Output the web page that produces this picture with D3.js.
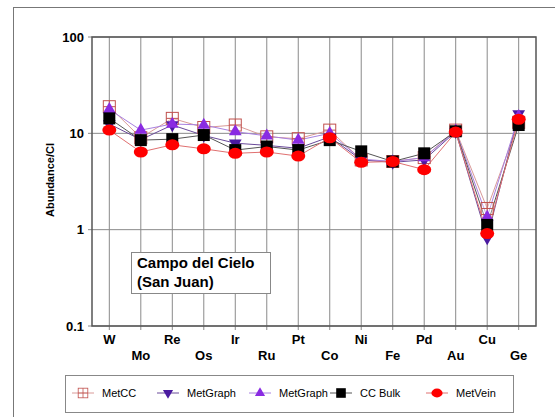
<!DOCTYPE html>
<html>
<head>
<meta charset="utf-8">
<script src="https://cdn.jsdelivr.net/npm/d3@7"></script>
<style>
  body { margin: 0; background: #fff; }
  svg { display: block; font-family: "Liberation Sans", Arial, sans-serif; }
</style>
</head>
<body>
<svg id="chart" width="555" height="417"></svg>
<script>
var elements = ["W", "Mo", "Re", "Os", "Ir", "Ru", "Pt", "Co", "Ni", "Fe", "Pd", "Au", "Cu", "Ge"]
var yTicks = [0.1, 1, 10, 100]

var metCC      = [18.9, 9.0, 14.3, 11.5, 12.2, 9.2, 8.8, 10.8, 5.3, 5.1, 5.6, 10.8, 1.66, 13.0]
var metGraphDn = [12.5, 8.6, 12.2, 9.5, 7.9, 7.5, 7.0, 9.2, 5.3, 5.0, 5.3, 10.4, 0.82, 15.9]
var metGraphUp = [17.7, 10.8, 12.5, 12.2, 10.4, 9.4, 8.5, 10.0, 5.4, 5.1, 5.6, 10.6, 1.35, 15.0]
var ccBulk     = [14.3, 8.5, 8.7, 9.6, 6.7, 7.3, 6.7, 8.5, 6.5, 5.1, 6.2, 10.5, 1.12, 12.2]
var metVein    = [10.8, 6.4, 7.6, 6.9, 6.2, 6.4, 5.8, 9.0, 5.0, 5.1, 4.2, 10.3, 0.91, 14.0]

var series = [
    { name: "MetCC", values: metCC, marker: "squareCross", color: "#c0504d", line: "#d99a98" },
    { name: "MetGraph", values: metGraphDn, marker: "triDown", color: "#4a1aa0", line: "#6a4a9a" },
    { name: "MetGraph", values: metGraphUp, marker: "triUp", color: "#8a2be2", line: "#a880e0" },
    { name: "CC Bulk", values: ccBulk, marker: "square", color: "#000000", line: "#555555" },
    { name: "MetVein", values: metVein, marker: "circle", color: "#ff0000", line: "#e07070" }
]

var margin = { top: 37, left: 92, bottom: 91, right: 19 }
var svgWidth = 555
var svgHeight = 417
var width = svgWidth - margin.left - margin.right
var height = 326 - margin.top

var svg = d3.select("#chart")

// outer frame
svg.append("rect")
    .attr("x", 13.5).attr("y", 7.5)
    .attr("width", 560).attr("height", 430)
    .attr("fill", "none").attr("stroke", "#777").attr("stroke-width", 1)

const g = svg.append("g")
    .attr("transform", `translate(${margin.left},${margin.top})`)

const X_scale = d3.scalePoint()
    .domain(elements)
    .range([0, width])
    .padding(0.55)

const Y_scale = d3.scaleLog()
    .domain([0.1, 100])
    .range([height, 0])

// gridlines
g.selectAll(".vgrid")
    .data(elements)
    .join("line")
    .attr("x1", d => X_scale(d)).attr("x2", d => X_scale(d))
    .attr("y1", 0).attr("y2", height + 4)
    .attr("stroke", "#8a8a8a").attr("stroke-width", 1)

g.selectAll(".hgrid")
    .data(yTicks)
    .join("line")
    .attr("x1", -4).attr("x2", width)
    .attr("y1", d => Y_scale(d)).attr("y2", d => Y_scale(d))
    .attr("stroke", "#8a8a8a").attr("stroke-width", 1)

// plot frame
g.append("rect")
    .attr("x", 0).attr("y", 0)
    .attr("width", width).attr("height", height)
    .attr("fill", "none").attr("stroke", "#555").attr("stroke-width", 1.5)

// y tick labels
g.selectAll(".ylab")
    .data(yTicks)
    .join("text")
    .attr("x", -8)
    .attr("y", d => Y_scale(d))
    .attr("dy", "0.35em")
    .attr("text-anchor", "end")
    .attr("font-size", 13)
    .attr("font-weight", "bold")
    .text(d => d3.format("~g")(d))

// x tick labels, staggered on two rows
g.selectAll(".xlab")
    .data(elements)
    .join("text")
    .attr("x", d => X_scale(d))
    .attr("y", (d, i) => i % 2 === 0 ? height + 18 : height + 34)
    .attr("text-anchor", "middle")
    .attr("font-size", 13)
    .attr("font-weight", "bold")
    .text(d => d)

svg.append("text")
    .attr("transform", "translate(54,180) rotate(-90)")
    .attr("text-anchor", "middle")
    .attr("font-size", 11)
    .attr("font-weight", "bold")
    .text("Abundance/CI")

// markers
function drawMarker(sel, type, color) {
    if (type === "squareCross") {
        sel.append("rect").attr("x", -6).attr("y", -6).attr("width", 12).attr("height", 12)
            .attr("fill", "#fff").attr("fill-opacity", 0.3).attr("stroke", color).attr("stroke-width", 1)
        sel.append("path").attr("d", "M-6,0H6M0,-6V6").attr("stroke", color).attr("stroke-width", 1)
    } else if (type === "triUp") {
        sel.append("path").attr("d", d3.symbol(d3.symbolTriangle, 70)()).attr("fill", color)
    } else if (type === "triDown") {
        sel.append("path").attr("d", d3.symbol(d3.symbolTriangle, 70)())
            .attr("transform", "rotate(180)").attr("fill", color)
    } else if (type === "square") {
        sel.append("rect").attr("x", -6).attr("y", -6).attr("width", 12).attr("height", 12).attr("fill", color)
    } else {
        sel.append("ellipse").attr("rx", 7).attr("ry", 5.5).attr("fill", color)
    }
}

var line = d3.line()
    .x((d, i) => X_scale(elements[i]))
    .y(d => Y_scale(d))

series.forEach(s => {
    g.append("path")
        .datum(s.values)
        .attr("d", line)
        .attr("fill", "none")
        .attr("stroke", s.line)
        .attr("stroke-width", 1)
})

series.forEach(s => {
    g.selectAll(null)
        .data(s.values)
        .join("g")
        .attr("transform", (d, i) => `translate(${X_scale(elements[i])},${Y_scale(d)})`)
        .each(function () { drawMarker(d3.select(this), s.marker, s.color) })
})

// label box
const label = svg.append("g")
label.append("rect")
    .attr("x", 131.5).attr("y", 252.5).attr("width", 139).attr("height", 41)
    .attr("fill", "#fff").attr("stroke", "#888").attr("stroke-width", 1)
label.append("text")
    .attr("x", 137).attr("y", 268)
    .attr("font-size", 15).attr("font-weight", "bold")
    .text("Campo del Cielo")
label.append("text")
    .attr("x", 137).attr("y", 287)
    .attr("font-size", 15).attr("font-weight", "bold")
    .text("(San Juan)")

// legend
var legendX = [83, 168, 260, 341, 437]
const legend = svg.append("g")
legend.append("rect")
    .attr("x", 65.5).attr("y", 375.5).attr("width", 448).attr("height", 37)
    .attr("fill", "#fff").attr("stroke", "#888").attr("stroke-width", 1)

series.forEach((s, i) => {
    var item = legend.append("g").attr("transform", `translate(${legendX[i]},393)`)
    item.append("line").attr("x1", -11).attr("x2", 11)
        .attr("stroke", s.line).attr("stroke-width", 1)
    var m = item.append("g").attr("transform", "scale(0.8)")
    drawMarker(m, s.marker, s.color)
    item.append("text")
        .attr("x", 19).attr("dy", "0.35em")
        .attr("font-size", 11)
        .text(s.name)
})
</script>
</body>
</html>
